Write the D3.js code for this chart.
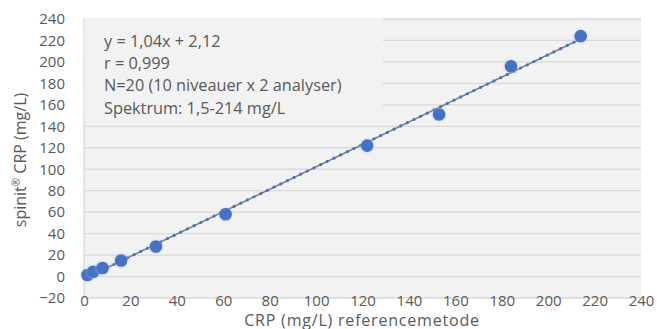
<!DOCTYPE html>
<html>
<head>
<meta charset="utf-8">
<script src="https://cdn.jsdelivr.net/npm/d3@7/dist/d3.min.js"></script>
<style>
  body { margin: 0; background: #fff; }
  svg text { font-family: "Open Sans", "Noto Sans", sans-serif; fill: #595959; }
</style>
</head>
<body>
<svg id="chart" width="657" height="329"></svg>
<script>
// reference method (x) vs spinit CRP (y), mg/L
const refValues = [1.5, 4, 8, 16, 31, 61, 122, 153, 184, 214];
const spinitValues = [1.5, 4.5, 8, 15, 28, 58, 122, 151, 196, 224];
const xTicks = [0, 20, 40, 60, 80, 100, 120, 140, 160, 180, 200, 220, 240];
const yTicks = [-20, 0, 20, 40, 60, 80, 100, 120, 140, 160, 180, 200, 220, 240];
const noteLines = [
  "y = 1,04x + 2,12",
  "r = 0,999",
  "N=20 (10 niveauer x 2 analyser)",
  "Spektrum: 1,5-214 mg/L"
];

const svg = d3.select("#chart");
const margin = { left: 84, right: 16, top: 19, bottom: 31 };
const W = 657, H = 329;

const x = d3.scaleLinear().domain([0, 240]).range([margin.left, W - margin.right]);
const y = d3.scaleLinear().domain([-20, 240]).range([H - margin.bottom, margin.top]);

// plot background
svg.append("rect")
  .attr("x", x(0)).attr("y", y(240))
  .attr("width", x(240) - x(0)).attr("height", y(-20) - y(240))
  .attr("fill", "#f2f2f2");

// gridlines
svg.append("g")
  .selectAll("line")
  .data(yTicks)
  .join("line")
  .attr("x1", x(0)).attr("x2", x(240))
  .attr("y1", d => y(d)).attr("y2", d => y(d))
  .attr("stroke", "#d9d9d9").attr("stroke-width", 1.3);

// y axis line
svg.append("line")
  .attr("x1", x(0)).attr("x2", x(0))
  .attr("y1", y(240)).attr("y2", y(-20))
  .attr("stroke", "#d9d9d9").attr("stroke-width", 1.3);

// tick labels
const yAxis = svg.append("g")
  .attr("transform", `translate(${x(0)},0)`)
  .call(d3.axisLeft(y).tickValues(yTicks).tickSize(0).tickPadding(19));
const xAxis = svg.append("g")
  .attr("transform", `translate(0,${y(-20)})`)
  .call(d3.axisBottom(x).tickValues(xTicks).tickSize(0).tickPadding(-2.5));
[yAxis, xAxis].forEach(a => {
  a.select(".domain").remove();
  a.selectAll("text").attr("font-size", 15).attr("fill", "#595959")
    .style("font-family", "'Open Sans', sans-serif");
});

// annotation box (hides the top-left gridlines)
svg.append("rect")
  .attr("x", x(0) + 0.7).attr("y", y(240) - 1)
  .attr("width", 382 - x(0)).attr("height", 103)
  .attr("fill", "#f2f2f2");
svg.append("g")
  .selectAll("text")
  .data(noteLines)
  .join("text")
  .attr("x", 104)
  .attr("y", (d, i) => 47 + i * 22.2)
  .attr("font-size", 16.3)
  .text(d => d);

// least-squares trend line through the points (as Excel draws it)
const mx = d3.mean(refValues), my = d3.mean(spinitValues);
const sxy = d3.sum(refValues, (v, i) => (v - mx) * (spinitValues[i] - my));
const sxx = d3.sum(refValues, v => (v - mx) ** 2);
const slope = sxy / sxx;
const icpt = my - slope * mx;
const [x0, x1] = d3.extent(refValues);

svg.append("line")
  .attr("x1", x(x0)).attr("y1", y(slope * x0 + icpt))
  .attr("x2", x(x1)).attr("y2", y(slope * x1 + icpt))
  .attr("stroke", "#7f7f7f").attr("stroke-width", 1.6);
svg.append("line")
  .attr("x1", x(x0)).attr("y1", y(slope * x0 + icpt))
  .attr("x2", x(x1)).attr("y2", y(slope * x1 + icpt))
  .attr("stroke", "#4472c4").attr("stroke-width", 3.2)
  .attr("stroke-linecap", "round")
  .attr("stroke-dasharray", "0 7.4");

// glow for the points
const f = svg.append("defs").append("filter").attr("id", "glow")
  .attr("x", "-50%").attr("y", "-50%").attr("width", "200%").attr("height", "200%");
f.append("feGaussianBlur").attr("in", "SourceAlpha").attr("stdDeviation", 1.5).attr("result", "b");
f.append("feFlood").attr("flood-color", "#a9c1ee").attr("flood-opacity", 0.8);
f.append("feComposite").attr("in2", "b").attr("operator", "in").attr("result", "g");
const fm = f.append("feMerge");
fm.append("feMergeNode").attr("in", "g");
fm.append("feMergeNode").attr("in", "SourceGraphic");

svg.append("g")
  .selectAll("circle")
  .data(refValues.map((v, i) => [v, spinitValues[i]]))
  .join("circle")
  .attr("cx", d => x(d[0]))
  .attr("cy", d => y(d[1]))
  .attr("r", 6.3)
  .attr("fill", "#4472c4")
  .attr("filter", "url(#glow)");

// axis titles
svg.append("text")
  .attr("x", 362).attr("y", 325.5)
  .attr("text-anchor", "middle")
  .attr("font-size", 16)
  .attr("letter-spacing", 0.8)
  .text("CRP (mg/L) referencemetode");

const yTitle = svg.append("text")
  .attr("transform", "translate(26,160) rotate(-90)")
  .attr("text-anchor", "middle")
  .attr("font-size", 16);
yTitle.append("tspan").text("spinit");
yTitle.append("tspan").attr("font-size", 10).attr("dy", -6).text("®");
yTitle.append("tspan").attr("dy", 6).text(" CRP (mg/L)");
</script>
</body>
</html>
